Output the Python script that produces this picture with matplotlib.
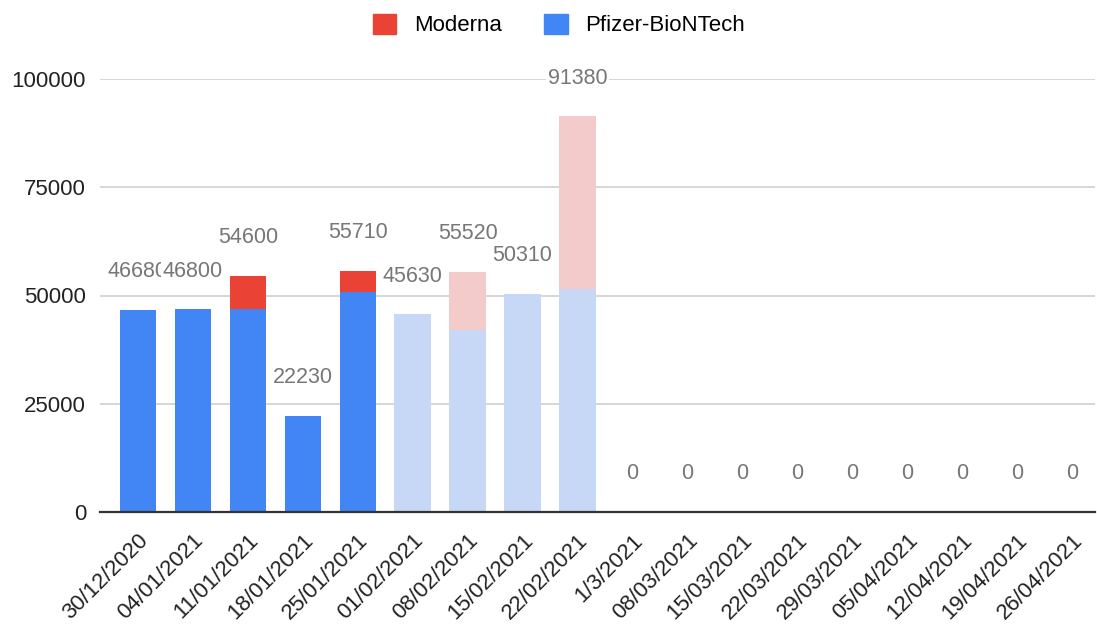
import matplotlib
matplotlib.use("Agg")
import matplotlib.pyplot as plt
from matplotlib.patches import Patch
import numpy as np

plt.rcParams['font.family'] = ['Liberation Sans', 'DejaVu Sans']

categories = ["30/12/2020", "04/01/2021", "11/01/2021", "18/01/2021", "25/01/2021",
              "01/02/2021", "08/02/2021", "15/02/2021", "22/02/2021", "1/3/2021",
              "08/03/2021", "15/03/2021", "22/03/2021", "29/03/2021", "05/04/2021",
              "12/04/2021", "19/04/2021", "26/04/2021"]
pfizer = [46680, 46800, 46800, 22230, 50700, 45630, 42120, 50310, 51480,
          0, 0, 0, 0, 0, 0, 0, 0, 0]
moderna = [0, 0, 7800, 0, 5010, 0, 13400, 0, 39900,
           0, 0, 0, 0, 0, 0, 0, 0, 0]
totals = [46680, 46800, 54600, 22230, 55710, 45630, 55520, 50310, 91380,
          0, 0, 0, 0, 0, 0, 0, 0, 0]
n_actual = 5  # first bars are actual (full colour), next ones are planned (light)

W, H = 1097, 624
fig = plt.figure(figsize=(W / 100, H / 100), dpi=100)
ax = fig.add_axes([100 / W, 1 - 512 / H, (1095 - 100) / W, (512 - 79) / H])

x = np.arange(len(categories))
pf_col = ["#4285F4" if i < n_actual else "#C6D8F6" for i in x]
mo_col = ["#EA4335" if i < n_actual else "#F3CBCB" for i in x]

ax.bar(x, pfizer, width=0.66, color=pf_col, zorder=2)
ax.bar(x, moderna, width=0.66, bottom=pfizer, color=mo_col, zorder=2)

ax.set_xlim(-0.69, len(categories) - 1 + 0.42)
ax.set_ylim(0, 100000)
ax.set_yticks([0, 25000, 50000, 75000, 100000])
ax.set_yticklabels(["0", "25000", "50000", "75000", "100000"], fontsize=16, color="#222222")
ax.yaxis.grid(True, color="#cccccc", linewidth=1.1, zorder=0)
ax.set_axisbelow(True)
ax.tick_params(axis="y", length=0, pad=10)
ax.tick_params(axis="x", length=0, pad=13)
ax.set_xticks(x)
ax.set_xticklabels(categories, rotation=45, ha="right", rotation_mode="anchor",
                   fontsize=16, color="#222222")
for s in ["top", "right", "left"]:
    ax.spines[s].set_visible(False)
ax.spines["bottom"].set_color("#333333")
ax.spines["bottom"].set_linewidth(1.6)
ax.spines["bottom"].set_zorder(3)

for i, t in enumerate(totals):
    ax.annotate(str(t), (i, t), xytext=(0, 27.5), textcoords="offset points",
                ha="center", va="center", fontsize=15.5, color="#777777", zorder=5,
                annotation_clip=False,
                bbox=dict(boxstyle="square,pad=0.08", fc="white", ec="none"))

handles = [Patch(color="#EA4335", label="Moderna"), Patch(color="#4285F4", label="Pfizer-BioNTech")]
fig.legend(handles=handles, loc="center", bbox_to_anchor=(559 / W, 1 - 25 / H), ncol=2,
           frameon=False, fontsize=16, handlelength=1.05, handleheight=1.05,
           columnspacing=1.9, handletextpad=0.8)

fig.savefig("out.png", dpi=100, facecolor="white")
